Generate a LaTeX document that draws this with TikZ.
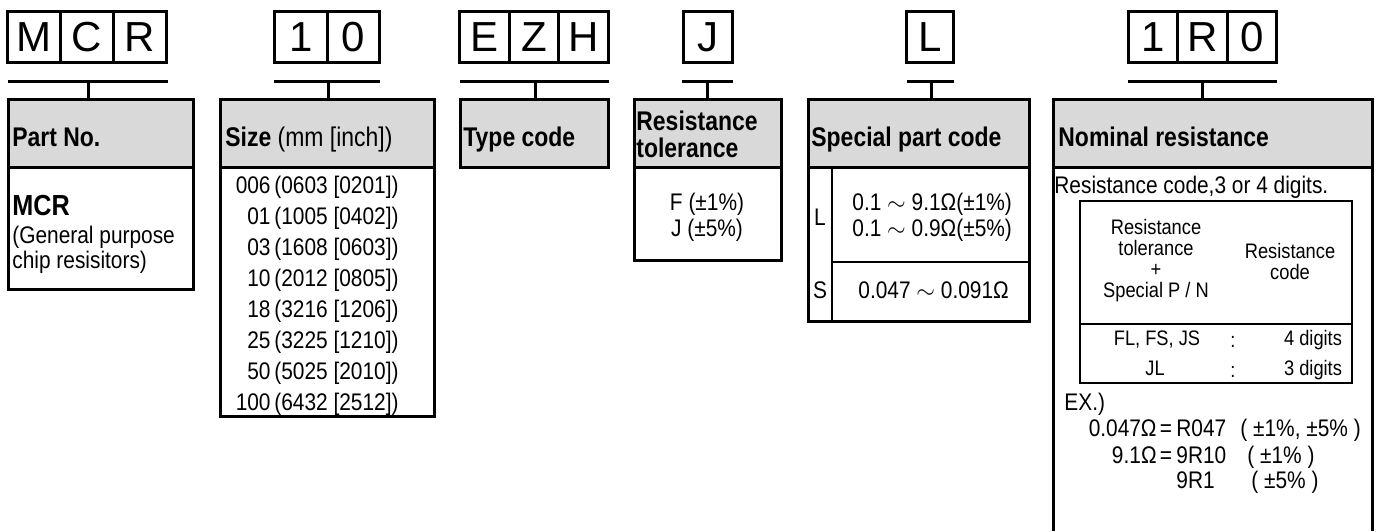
\documentclass[tikz,border=0pt]{standalone}
\usepackage{fontspec}
\setmainfont{Liberation Sans}
\newfontfamily\hfont[FakeStretch=0.85]{Liberation Sans}
\newfontfamily\bfont[FakeStretch=0.87]{Liberation Sans}
\definecolor{hdrgray}{RGB}{217,217,217}
\tikzset{
  cellbox/.style={draw, line width=1.5pt, minimum height=25.5pt, inner sep=0pt, font=\fontsize{21}{21}\selectfont},
  barline/.style={line width=1.5pt},
  stemline/.style={line width=1.5pt},
  frame/.style={line width=1.5pt},
  thinframe/.style={line width=0.75pt},
  midframe/.style={line width=1pt},
  hdrfill/.style={fill=hdrgray, draw, line width=1.5pt},
  htext/.style={inner sep=0pt, font=\hfont\fontsize{13.5}{14}\selectfont},
  btext/.style={inner sep=0pt, font=\bfont\fontsize{12}{13}\selectfont},
  ttext/.style={inner sep=0pt, font=\bfont\fontsize{10.5}{11}\selectfont}
}
\begin{document}
\begin{tikzpicture}[x=0.5pt,y=-0.5pt]
\useasboundingbox (0,0) rectangle (1380,531);

% ---------- code letter boxes ----------
\begin{scope}[cellbox/.append style={minimum width=26.5pt}]
\node[cellbox] (cM) at (34,37) {M};
\node[cellbox] (cC) at (87,37) {C};
\node[cellbox] (cR) at (140,37) {R};
\end{scope}
\begin{scope}[cellbox/.append style={minimum width=26.25pt}]
\node[cellbox] (c1) at (300.75,37) {1};
\node[cellbox] (c0) at (353.25,37) {0};
\end{scope}
\begin{scope}[cellbox/.append style={minimum width=24.8pt}]
\node[cellbox] (cE) at (484.3,37) {E};
\node[cellbox] (cZ) at (534,37) {Z};
\node[cellbox] (cH) at (583.7,37) {H};
\end{scope}
\node[cellbox, minimum width=24.5pt] (cJ) at (708,37) {J};
\node[cellbox, minimum width=23.5pt] (cL) at (930,37) {L};
\begin{scope}[cellbox/.append style={minimum width=24.67pt}]
\node[cellbox] (cA) at (1153.2,37) {1};
\node[cellbox] (cB) at (1202.5,37) {R};
\node[cellbox] (cD) at (1251.8,37) {0};
\end{scope}

% ---------- bars ----------
\coordinate (b1l) at (8,81);    \coordinate (b1r) at (168,81);
\coordinate (b2l) at (274,81);  \coordinate (b2r) at (380,81);
\coordinate (b3l) at (460,81);  \coordinate (b3r) at (609,81);
\coordinate (b4l) at (682,81);  \coordinate (b4r) at (733,81);
\coordinate (b5l) at (907,81);  \coordinate (b5r) at (954,81);
\coordinate (b6l) at (1128,81); \coordinate (b6r) at (1277,81);
\foreach \i in {1,...,6}{\draw[barline] (b\i l) -- (b\i r);}

% ---------- header boxes ----------
\draw[hdrfill] (8,99) rectangle (193,167);
\coordinate (hPart) at (88,99);
\draw[hdrfill] (220,99) rectangle (434,167);
\coordinate (hSize) at (328,99);
\draw[hdrfill] (460,99) rectangle (608,167);
\coordinate (hType) at (535,99);
\draw[hdrfill] (634,99) rectangle (781,167);
\coordinate (hTol) at (707,99);
\draw[hdrfill] (808,99) rectangle (1029,167);
\coordinate (hSpec) at (931,99);
\draw[hdrfill] (1053,99) rectangle (1372,167);
\coordinate (hNom) at (1202,99);

% stems
\draw[stemline] (b1l -| hPart) -- (hPart);
\draw[stemline] (b2l -| hSize) -- (hSize);
\draw[stemline] (b3l -| hType) -- (hType);
\draw[stemline] (b4l -| hTol) -- (hTol);
\draw[stemline] (b5l -| hSpec) -- (hSpec);
\draw[stemline] (b6l -| hNom) -- (hNom);

% ---------- body boxes ----------
\draw[frame] (8,167) rectangle (193,289);
\draw[frame] (220,167) rectangle (434,416);
\draw[frame] (634,167) rectangle (781,260);
\draw[frame] (808,167) rectangle (1029,321);
\draw[midframe] (832,167) -- (832,321);
\draw[midframe] (832,262) -- (1029,262);
\draw[frame] (1053,167) -- (1053,531);
\draw[frame] (1372,167) -- (1372,531);

% ---------- header texts ----------
\node[htext, anchor=base west] (tPart) at (12,146) {\bfseries Part No.};
\node[htext, anchor=base west] (tSize) at (225,146) {{\bfseries Size} (mm [inch])};
\node[htext, anchor=base west] (tType) at (463,146) {\bfseries Type code};
\node[htext, anchor=base west] (tTol1) at (636,130) {\bfseries Resistance};
\node[htext, anchor=base west] (tTol2) at (636,157) {\bfseries tolerance};
\node[htext, anchor=base west] (tSpec) at (811,146) {\bfseries Special part code};
\node[htext, anchor=base west] (tNom) at (1058,146) {\bfseries Nominal resistance};

% ---------- Part No. body ----------
\node[htext, anchor=base west, font=\bfont\fontsize{14.5}{15}\selectfont] (pMCR) at (12,215) {\bfseries MCR};
\node[btext, anchor=base west] (pG1) at (12,243) {(General purpose};
\node[btext, anchor=base west] (pG2) at (12,268) {chip resisitors)};

% ---------- Size body ----------
\foreach \n/\r [count=\i from 0] in {006/{(0603 [0201])},01/{(1005 [0402])},03/{(1608 [0603])},10/{(2012 [0805])},18/{(3216 [1206])},25/{(3225 [1210])},50/{(5025 [2010])},100/{(6432 [2512])}}{
  \node[btext, anchor=base east] (sn\i) at (271,193+31*\i) {\n};
  \node[btext, anchor=base west] (sr\i) at (274,193+31*\i) {\r};
}

% ---------- Tolerance body ----------
\node[btext, anchor=base] (tolF) at (707,210) {F (±1\%)};
\node[btext, anchor=base] (tolJ) at (707,236) {J (±5\%)};

% ---------- Special body ----------
\node[btext, anchor=base] (spL) at (820,225) {L};
\node[btext, anchor=base west] (spL1) at (852,210) {0.1 $\sim$ 9.1Ω(±1\%)};
\node[btext, anchor=base west] (spL2) at (852,236) {0.1 $\sim$ 0.9Ω(±5\%)};
\node[btext, anchor=base] (spS) at (820,298) {S};
\node[btext, anchor=base west] (spS1) at (858,298) {0.047 $\sim$ 0.091Ω};

% ---------- Nominal body ----------
\node[btext, anchor=base west] (nTitle) at (1054,193) {Resistance code,3 or 4 digits.};
\draw[thinframe] (1080,201) rectangle (1352,383);
\draw[thinframe] (1080,324) -- (1352,324);
\node[ttext, anchor=base] (nh1) at (1156,234) {Resistance};
\node[ttext, anchor=base] (nh2) at (1156,255) {tolerance};
\node[ttext, anchor=base] (nh3) at (1156,276) {+};
\node[ttext, anchor=base] (nh4) at (1156,297) {Special P / N};
\node[ttext, anchor=base] (nh5) at (1290,258) {Resistance};
\node[ttext, anchor=base] (nh6) at (1290,279) {code};
\node[ttext, anchor=base] (nr1a) at (1157,345) {FL, FS, JS};
\node[ttext, anchor=base] (nr1b) at (1233,347) {:};
\node[ttext, anchor=base] (nr1c) at (1313,345) {4 digits};
\node[ttext, anchor=base] (nr2a) at (1155,375) {JL};
\node[ttext, anchor=base] (nr2b) at (1233,377) {:};
\node[ttext, anchor=base] (nr2c) at (1313,375) {3 digits};

\node[btext, anchor=base west] (ex0) at (1064,410) {EX.)};
\node[btext, anchor=base east] (ex1a) at (1157,436) {0.047Ω};
\node[btext, anchor=base] (ex1b) at (1166,436) {=};
\node[btext, anchor=base west] (ex1c) at (1176,436) {R047};
\node[btext, anchor=base west] (ex1d) at (1240,436) {( ±1\%, ±5\% )};
\node[btext, anchor=base east] (ex2a) at (1157,463) {9.1Ω};
\node[btext, anchor=base] (ex2b) at (1166,463) {=};
\node[btext, anchor=base west] (ex2c) at (1176,463) {9R10};
\node[btext, anchor=base west] (ex2d) at (1247,463) {( ±1\% )};
\node[btext, anchor=base west] (ex3c) at (1176,488) {9R1};
\node[btext, anchor=base west] (ex3d) at (1251,488) {( ±5\% )};
\end{tikzpicture}
\end{document}
